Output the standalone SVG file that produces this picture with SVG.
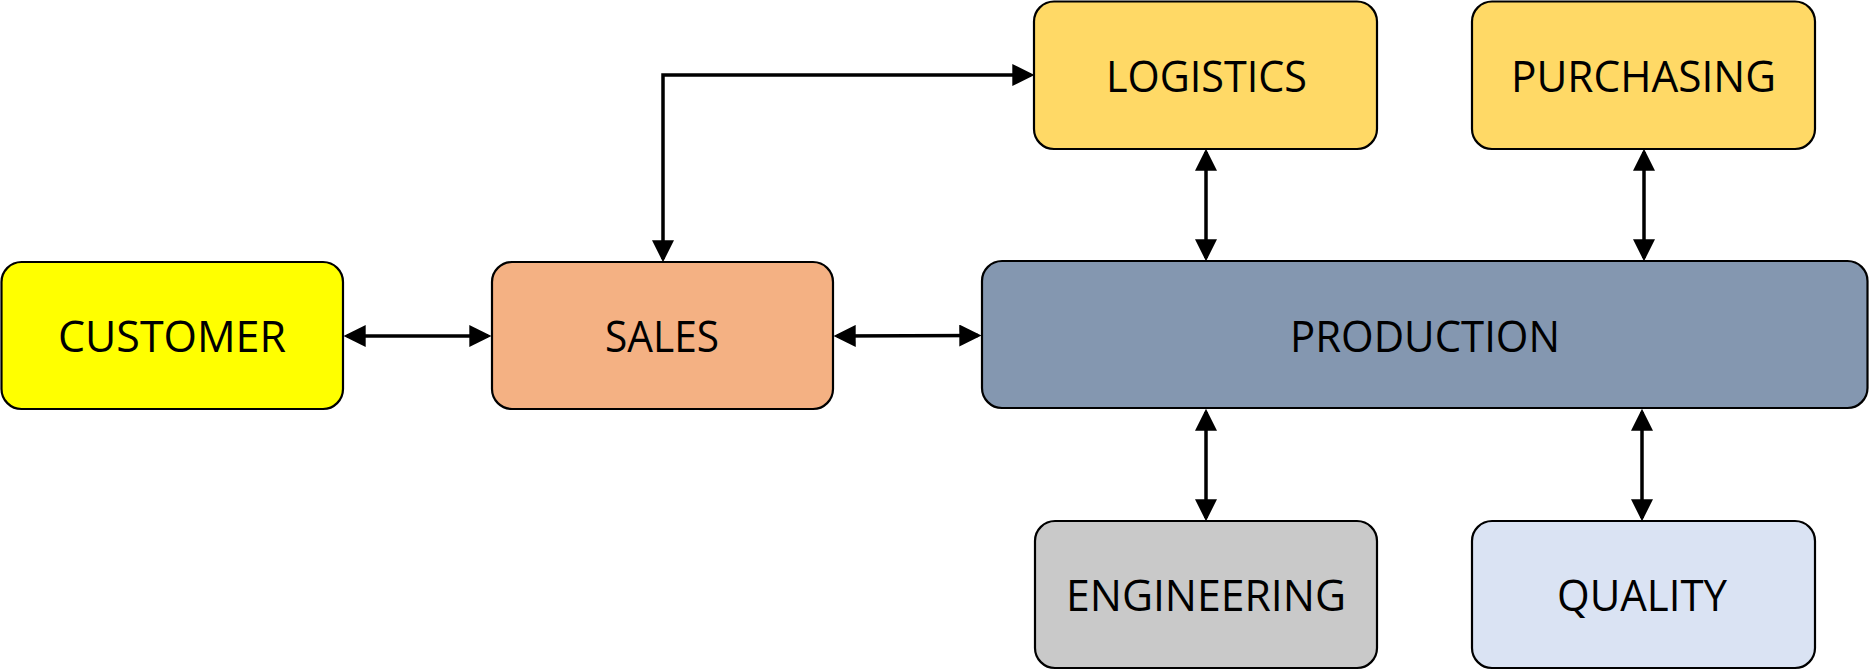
<svg xmlns="http://www.w3.org/2000/svg" width="1869" height="670" viewBox="0 0 1869 670">
<style>
.box{stroke:#000;stroke-width:2.2}
.lbl{font-family:"Open Sans","Liberation Sans",sans-serif;font-size:44px;fill:#000;text-anchor:middle}
.conn{fill:none;stroke:#000;stroke-width:3.5}
</style>
<defs>
<marker id="ah" markerUnits="userSpaceOnUse" markerWidth="22" markerHeight="22" viewBox="0 0 20 20" refX="17" refY="10" orient="auto-start-reverse">
<path d="M0,0 L20,10 L0,20 z" fill="#000"/>
</marker>
</defs>
<rect width="1869" height="670" fill="#fff"/>
<g id="connectors">
<path class="conn" d="M347 336 H488" marker-start="url(#ah)" marker-end="url(#ah)"/>
<path class="conn" d="M837 336 L978 335.5" marker-start="url(#ah)" marker-end="url(#ah)"/>
<path class="conn" d="M663 259 V75 H1031" marker-start="url(#ah)" marker-end="url(#ah)"/>
<path class="conn" d="M1206 152 V258" marker-start="url(#ah)" marker-end="url(#ah)"/>
<path class="conn" d="M1644 152 V258" marker-start="url(#ah)" marker-end="url(#ah)"/>
<path class="conn" d="M1206 412 V518" marker-start="url(#ah)" marker-end="url(#ah)"/>
<path class="conn" d="M1642 412 V518" marker-start="url(#ah)" marker-end="url(#ah)"/>
</g>
<g id="customer">
<rect class="box" x="1.5" y="262" width="341.5" height="147" rx="20" fill="#FFFF00"/>
<text class="lbl" x="172" y="352" textLength="228" lengthAdjust="spacingAndGlyphs">CUSTOMER</text>
</g>
<g id="sales">
<rect class="box" x="492" y="262" width="341" height="147" rx="20" fill="#F4B183"/>
<text class="lbl" x="662" y="352" textLength="114" lengthAdjust="spacingAndGlyphs">SALES</text>
</g>
<g id="production">
<rect class="box" x="982" y="261" width="885.5" height="147" rx="20" fill="#8497B0"/>
<text class="lbl" x="1425" y="352" textLength="270" lengthAdjust="spacingAndGlyphs">PRODUCTION</text>
</g>
<g id="logistics">
<rect class="box" x="1034" y="1.5" width="343" height="147.5" rx="20" fill="#FFD966"/>
<text class="lbl" x="1206.5" y="92" textLength="201" lengthAdjust="spacingAndGlyphs">LOGISTICS</text>
</g>
<g id="purchasing">
<rect class="box" x="1472" y="1.5" width="343" height="147.5" rx="20" fill="#FFD966"/>
<text class="lbl" x="1643.5" y="92" textLength="265" lengthAdjust="spacingAndGlyphs">PURCHASING</text>
</g>
<g id="engineering">
<rect class="box" x="1035" y="521" width="342" height="147" rx="20" fill="#C9C9C9"/>
<text class="lbl" x="1206" y="611" textLength="280" lengthAdjust="spacingAndGlyphs">ENGINEERING</text>
</g>
<g id="quality">
<rect class="box" x="1472" y="521" width="343" height="147" rx="20" fill="#DAE3F3"/>
<text class="lbl" x="1642" y="611" textLength="170" lengthAdjust="spacingAndGlyphs">QUALITY</text>
</g>
</svg>
